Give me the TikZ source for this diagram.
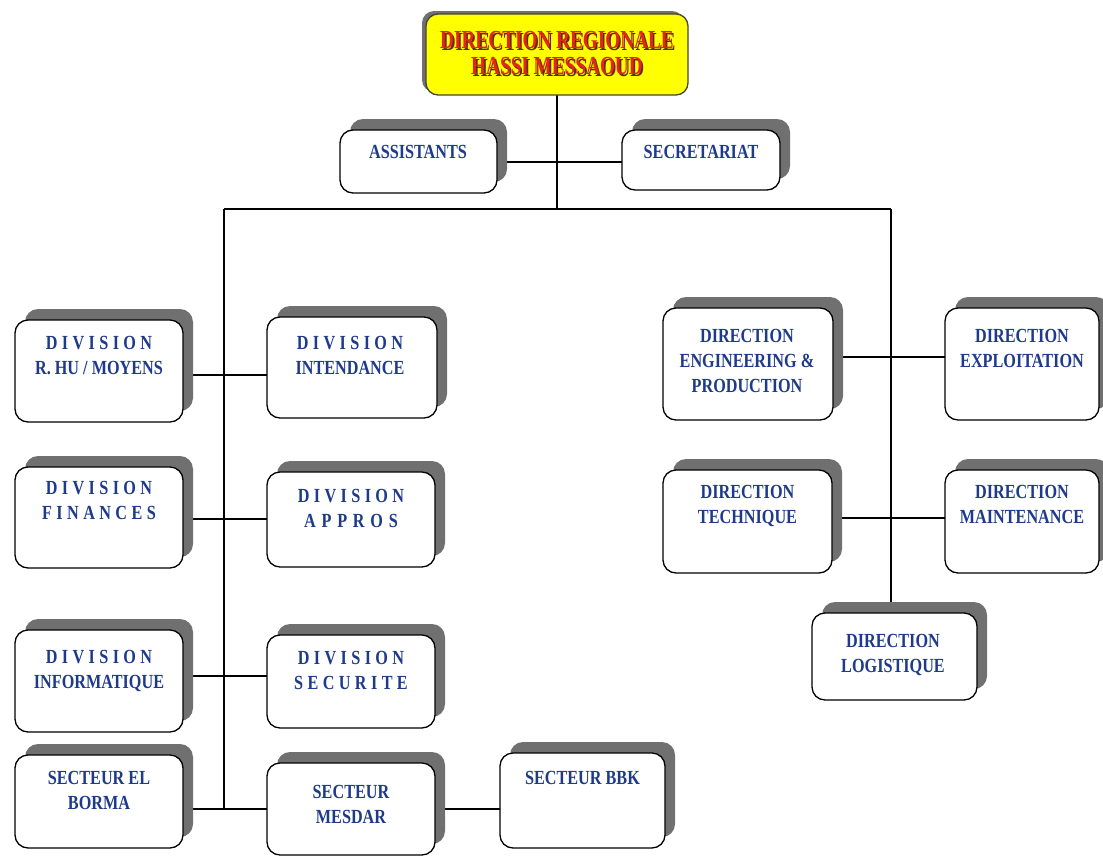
\documentclass[tikz,border=0pt]{standalone}
\usepackage{fontspec}
\setmainfont{Liberation Serif}
\newfontfamily\boxfont[FakeStretch=0.81]{Liberation Serif}
\newfontfamily\headfont[FakeStretch=0.74]{Liberation Serif}
\usetikzlibrary{shadows}

\definecolor{boxtext}{RGB}{30,58,138}
\definecolor{shadowgray}{RGB}{112,112,112}
\definecolor{headred}{RGB}{228,38,26}
\definecolor{headshade}{RGB}{95,45,25}
\definecolor{headyellow}{RGB}{255,255,0}
\definecolor{headedge}{RGB}{70,70,50}

% letter spacing used in the DIVISION labels
\newcommand\sk{\kern4.4pt\relax}
\newcommand\skw{\kern5.8pt\relax}

\tikzset{
  unit/.style={draw=black, line width=1.3pt, fill=white, rounded corners=13pt,
    inner sep=0pt,
    copy shadow={shadow xshift=10pt, shadow yshift=11pt, fill=shadowgray, draw=none}},
  headbox/.style={draw=headedge, line width=1.3pt, fill=headyellow, rounded corners=12pt,
    inner sep=0pt,
    copy shadow={shadow xshift=-4pt, shadow yshift=3pt, fill=shadowgray, draw=none}},
  boxtxt/.style={anchor=north, align=center, inner sep=0pt, text=boxtext,
    font=\boxfont\bfseries\fontsize{20}{25}\selectfont},
  headtxt/.style={anchor=north, align=center, inner sep=0pt,
    font=\headfont\bfseries\fontsize{26}{26}\selectfont},
  link/.style={draw=black, line width=1.2pt},
}

\begin{document}
\begin{tikzpicture}[x=1pt, y=-1pt]
\useasboundingbox (0,0) rectangle (1103,857);
\clip (0,0) rectangle (1103,857);

% junction points on the trunks
\coordinate (j0) at (557,209);
\coordinate (ja) at (557,162);
\coordinate (jl) at (224,209);
\coordinate (jr) at (891,209);
\coordinate (j1) at (224,375);
\coordinate (j2) at (224,519);
\coordinate (j3) at (224,676);
\coordinate (j4) at (224,809);
\coordinate (j5) at (891,357);
\coordinate (j6) at (891,518);

% boxes are placed first (invisible) so the links can refer to them
\path
  (557,54.5)   node[minimum width=262pt, minimum height=81pt]  (top) {}
  (418.5,161.5) node[minimum width=157pt, minimum height=63pt] (assist) {}
  (701,160)    node[minimum width=158pt, minimum height=60pt]  (secr) {}
  (99,371)     node[minimum width=168pt, minimum height=102pt] (rhu) {}
  (352,367.5)  node[minimum width=170pt, minimum height=101pt] (inten) {}
  (99,517.5)   node[minimum width=168pt, minimum height=101pt] (fin) {}
  (351,519.5)  node[minimum width=168pt, minimum height=95pt]  (appros) {}
  (99,681)     node[minimum width=168pt, minimum height=102pt] (info) {}
  (351,681.5)  node[minimum width=168pt, minimum height=93pt]  (secu) {}
  (99,801.5)   node[minimum width=168pt, minimum height=93pt]  (borma) {}
  (351,809)    node[minimum width=168pt, minimum height=92pt]  (mesdar) {}
  (582.5,800.5) node[minimum width=165pt, minimum height=95pt] (bbk) {}
  (748,364)    node[minimum width=170pt, minimum height=112pt] (eng) {}
  (1022,364)   node[minimum width=154pt, minimum height=112pt] (explo) {}
  (747.5,521.5) node[minimum width=169pt, minimum height=103pt] (tech) {}
  (1022,521.5) node[minimum width=154pt, minimum height=103pt] (maint) {}
  (894.5,656.5) node[minimum width=165pt, minimum height=87pt] (logi) {};

% links
\draw[link] (top.south) -- (j0);
\draw[link] (assist.east |- ja) -- (secr.west |- ja);
\draw[link] (jl) -- (jr);
\draw[link] (jl) -- (j4);
\draw[link] (jr) -- (jr |- logi.north);
\draw[link] (rhu.east |- j1) -- (inten.west |- j1);
\draw[link] (fin.east |- j2) -- (appros.west |- j2);
\draw[link] (info.east |- j3) -- (secu.west |- j3);
\draw[link] (borma.east |- j4) -- (mesdar.west |- j4);
\draw[link] (mesdar.east |- j4) -- (bbk.west |- j4);
\draw[link] (eng.east |- j5) -- (explo.west |- j5);
\draw[link] (tech.east |- j6) -- (maint.west |- j6);

% visible boxes with their shadows
\node[headbox, minimum width=262pt, minimum height=81pt] (topbox) at (top) {};
\foreach \n/\w/\h in {assist/157/63, secr/158/60, rhu/168/102, inten/170/101,
    fin/168/101, appros/168/95, info/168/102, secu/168/93, borma/168/93,
    mesdar/168/92, bbk/165/95, eng/170/112, explo/154/112, tech/169/103,
    maint/154/103, logi/165/87}
  \node[unit, minimum width=\w pt, minimum height=\h pt] (\n-box) at (\n) {};

% head title
\node[headtxt, text=headshade] (title-shade) at (558.6,32.6)
  {DIRECTION REGIONALE\\HASSI MESSAOUD};
\node[headtxt, text=headred] (title) at (557,31)
  {DIRECTION REGIONALE\\HASSI MESSAOUD};

% box texts
\node[boxtxt] (assist-t) at (418,145) {ASSISTANTS};
\node[boxtxt] (secr-t) at (701,145) {SECRETARIAT};
\node[boxtxt] (rhu-t) at (99,336)
  {D\sk I\sk V\sk I\sk S\sk I\sk O\sk N\\R. HU / MOYENS};
\node[boxtxt] (inten-t) at (350,336)
  {D\sk I\sk V\sk I\sk S\sk I\sk O\sk N\\INTENDANCE};
\node[boxtxt] (fin-t) at (99,481)
  {D\sk I\sk V\sk I\sk S\sk I\sk O\sk N\\F\sk I\sk N\sk A\sk N\sk C\sk E\sk S};
\node[boxtxt] (appros-t) at (351,489)
  {D\sk I\sk V\sk I\sk S\sk I\sk O\sk N\\A\skw P\skw P\skw R\skw O\skw S};
\node[boxtxt] (info-t) at (99,650)
  {D\sk I\sk V\sk I\sk S\sk I\sk O\sk N\\INFORMATIQUE};
\node[boxtxt] (secu-t) at (351,651)
  {D\sk I\sk V\sk I\sk S\sk I\sk O\sk N\\S\sk E\sk C\sk U\sk R\sk I\sk T\sk E};
\node[boxtxt] (borma-t) at (99,771) {SECTEUR EL\\BORMA};
\node[boxtxt] (mesdar-t) at (351,785) {SECTEUR\\MESDAR};
\node[boxtxt] (bbk-t) at (582.5,771) {SECTEUR BBK};
\node[boxtxt] (eng-t) at (747,329) {DIRECTION\\ENGINEERING \&\\PRODUCTION};
\node[boxtxt] (explo-t) at (1022,329) {DIRECTION\\EXPLOITATION};
\node[boxtxt] (tech-t) at (747.5,485.5) {DIRECTION\\TECHNIQUE};
\node[boxtxt] (maint-t) at (1022,485.5) {DIRECTION\\MAINTENANCE};
\node[boxtxt] (logi-t) at (893,634) {DIRECTION\\LOGISTIQUE};
\end{tikzpicture}
\end{document}
